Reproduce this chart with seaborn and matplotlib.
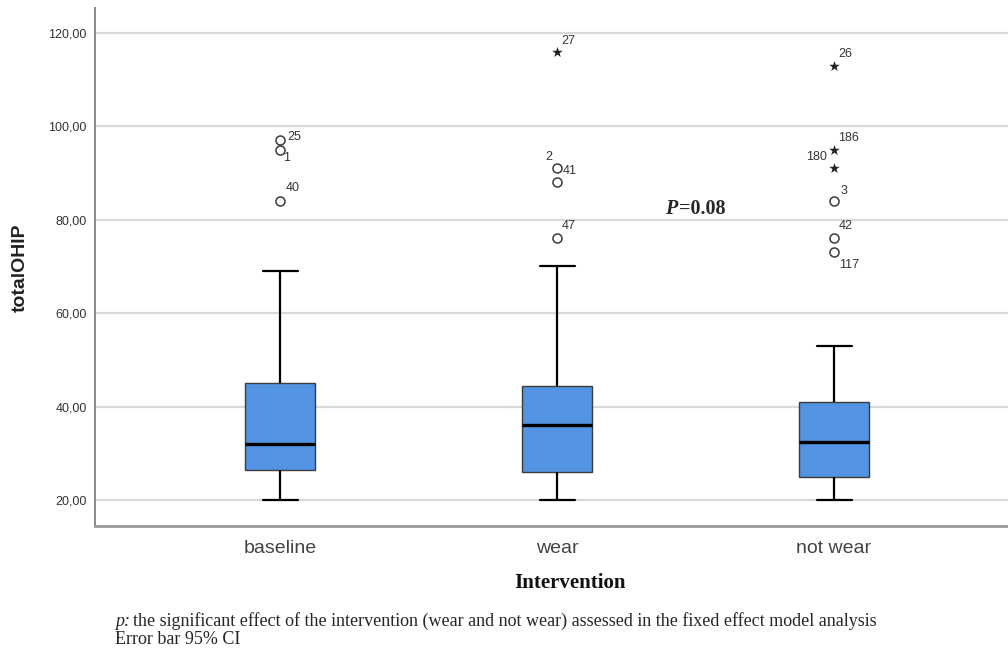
import numpy as np
import pandas as pd
import matplotlib
matplotlib.use("Agg")
import matplotlib.pyplot as plt
import seaborn as sns

# Groups and totalOHIP scores per group
groups = ["baseline", "wear", "not wear"]
baseline_scores = [20, 21, 23, 25, 26.5, 28, 30, 31, 32, 35, 38, 42, 45, 69, 84, 95, 97]
wear_scores = [20, 21, 22, 24, 25, 26, 28, 30, 33, 35, 36, 38, 40, 42, 43, 44.5,
               70, 76, 88, 91, 116]
notwear_scores = [20, 20, 21, 22, 23, 24, 24, 25, 26, 27, 28, 30, 31, 32, 32.5,
                  33, 35, 36, 38, 39, 40, 41, 53, 73, 76, 84, 91, 95, 113]

# Case numbers shown next to outlying observations
case_groups = ["baseline", "baseline", "baseline", "wear", "wear", "wear", "wear",
               "not wear", "not wear", "not wear", "not wear", "not wear", "not wear"]
case_values = [97, 95, 84, 116, 91, 88, 76, 113, 95, 91, 84, 76, 73]
case_ids = ["25", "1", "40", "27", "2", "41", "47", "26", "186", "180", "3", "42", "117"]
# label offsets (pixels) relative to each point
case_offsets = [(14, 3), (7, -8), (13, 13), (11, 11), (-8, 11), (13, 11), (12, 12),
                (11, 12), (14, 12), (-18, 11), (10, 10), (12, 12), (15, -13)]

yticks = [20, 40, 60, 80, 100, 120]
ytick_labels = ["20,00", "40,00", "60,00", "80,00", "100,00", "120,00"]

df = pd.concat([
    pd.DataFrame({"Intervention": g, "totalOHIP": s})
    for g, s in zip(groups, [baseline_scores, wear_scores, notwear_scores])
], ignore_index=True)

# Split outlying points into outliers (1.5-3 IQR) and extremes (>3 IQR)
rows_out, rows_ext = [], []
for g, s in zip(groups, [baseline_scores, wear_scores, notwear_scores]):
    q1, q3 = np.percentile(s, [25, 75])
    iqr = q3 - q1
    for v in s:
        if v > q3 + 3 * iqr or v < q1 - 3 * iqr:
            rows_ext.append((g, v))
        elif v > q3 + 1.5 * iqr or v < q1 - 1.5 * iqr:
            rows_out.append((g, v))
out_df = pd.DataFrame(rows_out, columns=["Intervention", "totalOHIP"])
ext_df = pd.DataFrame(rows_ext, columns=["Intervention", "totalOHIP"])

sns.set_theme(style="white")
plt.rcParams["font.family"] = ["Liberation Sans", "DejaVu Sans"]

fig = plt.figure(figsize=(10.08, 6.57), dpi=100)
ax = fig.add_axes([95 / 1008, 1 - 526 / 657, 913 / 1008, 518 / 657])

ax.set_axisbelow(True)
for t in yticks:
    ax.axhline(t, color="#d9d9d9", lw=1.6, zorder=0)

box_color = "#5393e4"
sns.boxplot(data=df, x="Intervention", y="totalOHIP", order=groups, ax=ax,
            width=0.253, color=box_color, saturation=1, showfliers=False,
            boxprops=dict(edgecolor="#3c3c3c", linewidth=1.0),
            whiskerprops=dict(color="black", linewidth=1.6),
            capprops=dict(color="black", linewidth=1.6),
            medianprops=dict(color="black", linewidth=2.4))

sns.stripplot(data=out_df, x="Intervention", y="totalOHIP", order=groups, ax=ax,
              jitter=False, marker="o", s=6.5, color="white",
              edgecolor="#3a3a3a", linewidth=1.1, zorder=4)
sns.stripplot(data=ext_df, x="Intervention", y="totalOHIP", order=groups, ax=ax,
              jitter=False, marker="*", s=8, color="#222222",
              linewidth=0, zorder=4)

for g, v, lab, (dx, dy) in zip(case_groups, case_values, case_ids, case_offsets):
    ax.annotate(lab, xy=(groups.index(g), v), xytext=(dx, dy),
                textcoords="offset pixels", ha="center", va="center",
                fontsize=9, color="#333333")

ax.set_xlim(-0.668, 2.628)
ax.set_ylim(14.43, 125.35)
ax.set_yticks(yticks)
ax.set_yticklabels(ytick_labels)
ax.tick_params(axis="y", length=0, pad=6, labelsize=9, labelcolor="#333333")
ax.tick_params(axis="x", length=0, pad=10, labelsize=14, labelcolor="#444444")
ax.set_xlabel("")
ax.set_ylabel("")

for side in ["top", "right"]:
    ax.spines[side].set_visible(False)
ax.spines["left"].set_color("#8a8a8a")
ax.spines["left"].set_linewidth(1.4)
ax.spines["bottom"].set_color("#9a9a9a")
ax.spines["bottom"].set_linewidth(2.0)

fig.text(20 / 1008, 1 - 268 / 657, "totalOHIP", rotation=90, ha="center", va="center",
         fontsize=14, fontweight="bold", color="#222222")
fig.text(570 / 1008, 1 - 583 / 657, "Intervention", ha="center", va="center",
         fontsize=15, fontweight="bold", family="Liberation Serif", color="#111111")

# p-value annotation
fig.text(665 / 1008, 1 - 209 / 657, "P", ha="left", va="center", fontsize=14.5,
         fontweight="bold", fontstyle="italic", family="Liberation Serif")
fig.text(679 / 1008, 1 - 209 / 657, "=0.08", ha="left", va="center", fontsize=14.5,
         fontweight="bold", family="Liberation Serif")

# footnote
fig.text(115 / 1008, 1 - 621 / 657, "p:", ha="left", va="center", fontsize=13,
         fontstyle="italic", family="Liberation Serif")
fig.text(133 / 1008, 1 - 621 / 657,
         "the significant effect of the intervention (wear and not wear) assessed in "
         "the fixed effect model analysis",
         ha="left", va="center", fontsize=13, family="Liberation Serif")
fig.text(115 / 1008, 1 - 640 / 657, "Error bar 95% CI", ha="left", va="center",
         fontsize=13, family="Liberation Serif")

fig.savefig("out.png", dpi=100)
